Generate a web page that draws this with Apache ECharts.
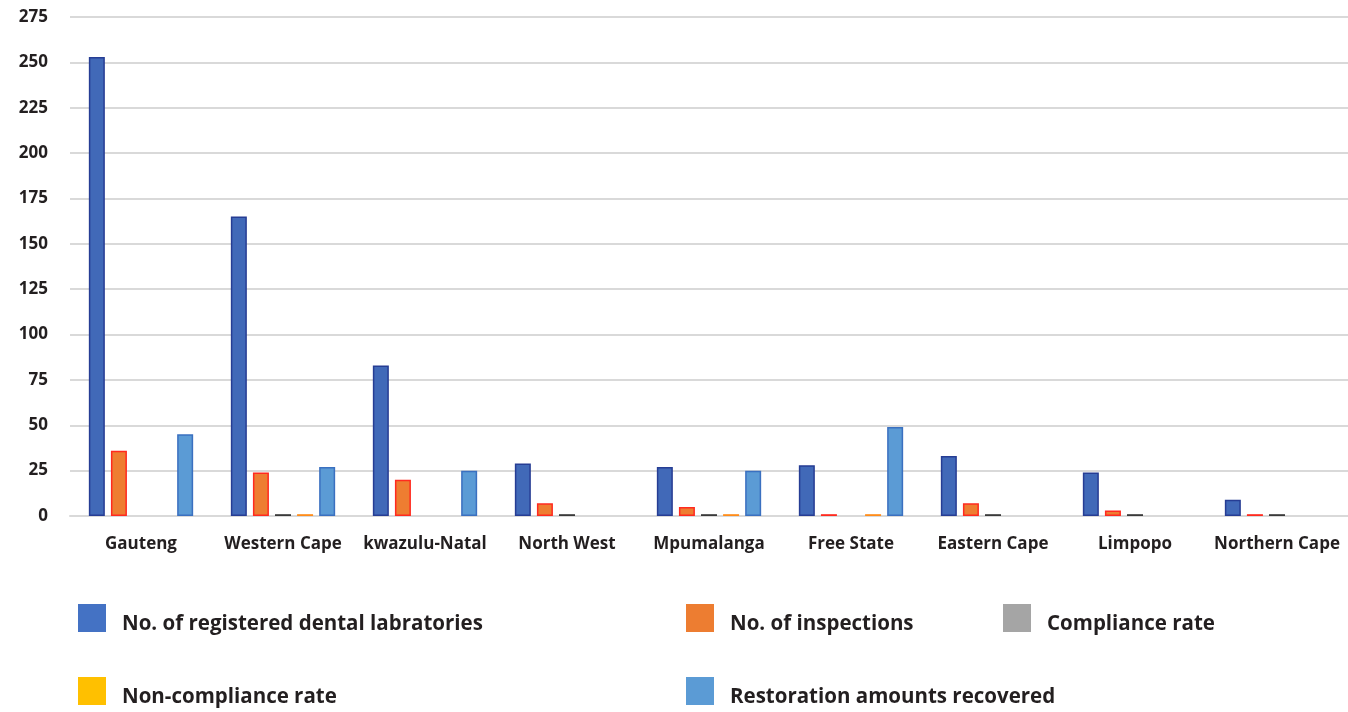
<!DOCTYPE html>
<html>
<head>
<meta charset="utf-8">
<script src="https://cdn.jsdelivr.net/npm/echarts@6/dist/echarts.min.js"></script>
<style>
  html, body { margin: 0; padding: 0; background: #fff; }
  #chart { width: 1348px; height: 712px; }
</style>
</head>
<body>
<div id="chart"></div>
<script>
const provinces = ['Gauteng', 'Western Cape', 'kwazulu-Natal', 'North West', 'Mpumalanga', 'Free State', 'Eastern Cape', 'Limpopo', 'Northern Cape'];
const registeredLabs = [253, 165, 83, 29, 27, 28, 33, 24, 9];
const inspections = [36, 24, 20, 7, 5, 1, 7, 3, 1];
const complianceRate = [null, 1, null, 1, 1, null, 1, 1, 1];
const nonComplianceRate = [null, 1, null, null, 1, 1, null, null, null];
const restorationRecovered = [45, 27, 25, null, 25, 49, null, null, null];
const yTicks = [0, 275, 25]; // min, max, step

const font = '"Open Sans", "Noto Sans", sans-serif';

function bar(name, data, color, border) {
  return {
    name: name,
    type: 'bar',
    data: data,
    barWidth: 16,
    barGap: '38%',
    itemStyle: { color: color, borderColor: border, borderWidth: 1.5 }
  };
}

// one legend per item so each sits where the reference puts it
function legendAt(name, color, left, top) {
  return {
    data: [{ name: name, itemStyle: { color: color, borderWidth: 0 } }],
    left: left,
    top: top,
    padding: 0,
    itemWidth: 28,
    itemHeight: 28,
    icon: 'rect',
    selectedMode: false,
    formatter: '{t|{name}}',
    textStyle: {
      padding: [0, 0, 0, 11],
      rich: {
        t: {
          fontFamily: font, fontSize: 20.5, fontWeight: 'bold', color: '#231f20',
          padding: [12, 0, 0, 0]
        }
      }
    }
  };
}

const chart = echarts.init(document.getElementById('chart'));
chart.setOption({
  animation: false,
  backgroundColor: '#fff',
  grid: { left: 70, right: 0, top: 17, bottom: 196 },
  legend: [
    legendAt('No. of registered dental labratories', '#4472c4', 78, 604),
    legendAt('No. of inspections', '#ed7d31', 686, 604),
    legendAt('Compliance rate', '#a5a5a5', 1003, 604),
    legendAt('Non-compliance rate', '#ffc000', 78, 677),
    legendAt('Restoration amounts recovered', '#5b9bd5', 686, 677)
  ],
  xAxis: {
    type: 'category',
    data: provinces,
    axisLine: { lineStyle: { color: '#d9d9d9', width: 2 } },
    axisTick: { show: false },
    axisLabel: {
      interval: 0, margin: 20,
      fontFamily: font, fontSize: 17, fontWeight: 'bold', color: '#231f20'
    }
  },
  yAxis: {
    type: 'value',
    min: yTicks[0],
    max: yTicks[1],
    interval: yTicks[2],
    axisLine: { show: false },
    axisTick: { show: false },
    splitLine: { lineStyle: { color: '#d9d9d9', width: 2 } },
    axisLabel: {
      margin: 22,
      fontFamily: font, fontSize: 17, fontWeight: 'bold', color: '#231f20'
    }
  },
  series: [
    bar('No. of registered dental labratories', registeredLabs, '#4169b8', '#263d94'),
    bar('No. of inspections', inspections, '#ee7d31', '#ff2a1f'),
    bar('Compliance rate', complianceRate, '#a5a5a5', '#3a3a3a'),
    bar('Non-compliance rate', nonComplianceRate, '#ffc000', '#ff8c1a'),
    bar('Restoration amounts recovered', restorationRecovered, '#5b9bd5', '#3a70c0')
  ]
});
</script>
</body>
</html>
